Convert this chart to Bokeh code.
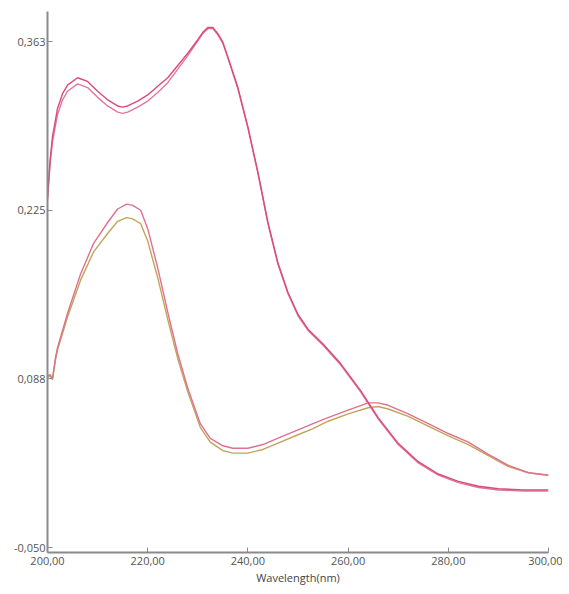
from bokeh.plotting import figure
from bokeh.models import FixedTicker, CustomJSTickFormatter, Range1d
from bokeh.embed import file_html
from bokeh.resources import INLINE

# Upper pair of spectra
wl_top = [200, 200.5, 201, 202, 203, 204, 206, 208, 210, 212, 214, 215, 216, 218, 220, 222,
          224, 226, 228, 230, 231, 232, 233, 234, 235, 236, 238, 240, 242, 244, 246, 248,
          250, 252, 255, 258.5, 262.5, 266, 270, 274, 278, 282, 286, 290, 295, 300]
top_a = [0.235, 0.265, 0.285, 0.308, 0.320, 0.327, 0.333, 0.330, 0.322, 0.315, 0.310, 0.309,
         0.310, 0.314, 0.319, 0.326, 0.333, 0.343, 0.353, 0.364, 0.370, 0.374, 0.374, 0.369,
         0.362, 0.350, 0.325, 0.293, 0.256, 0.215, 0.182, 0.158, 0.140, 0.128, 0.116, 0.100,
         0.078, 0.056, 0.035, 0.020, 0.010, 0.004, 0.000, -0.002, -0.003, -0.003]
top_b = [0.233, 0.262, 0.281, 0.303, 0.315, 0.322, 0.328, 0.325, 0.317, 0.310, 0.305, 0.304,
         0.305, 0.309, 0.314, 0.321, 0.329, 0.340, 0.351, 0.363, 0.369, 0.373, 0.373, 0.368,
         0.361, 0.349, 0.324, 0.292, 0.255, 0.214, 0.181, 0.157, 0.139, 0.127, 0.115, 0.099,
         0.077, 0.055, 0.034, 0.019, 0.009, 0.003, -0.001, -0.003, -0.004, -0.004]

# Lower pair of spectra
wl_low = [200, 200.5, 201, 201.6, 202, 204, 206.6, 209.2, 212, 214, 215.8, 217, 218.6, 220,
          222, 224, 226, 228, 230.5, 232.5, 235, 237, 240, 243, 246.5, 250, 253, 256, 260,
          264, 266, 268, 272, 276, 280, 284, 288, 292, 296, 300]
low_pink = [0.090, 0.091, 0.088, 0.105, 0.113, 0.141, 0.173, 0.198, 0.215, 0.226, 0.230, 0.229,
            0.225, 0.210, 0.178, 0.142, 0.108, 0.080, 0.051, 0.039, 0.033, 0.031, 0.031, 0.034,
            0.040, 0.046, 0.051, 0.056, 0.062, 0.068, 0.068, 0.066, 0.059, 0.051, 0.043, 0.036,
            0.026, 0.017, 0.011, 0.009]
low_olive = [0.089, 0.090, 0.087, 0.103, 0.111, 0.138, 0.168, 0.191, 0.206, 0.216, 0.219, 0.218,
             0.214, 0.200, 0.170, 0.136, 0.104, 0.077, 0.048, 0.036, 0.029, 0.027, 0.027, 0.030,
             0.036, 0.042, 0.047, 0.053, 0.059, 0.064, 0.065, 0.063, 0.057, 0.049, 0.041, 0.034,
             0.025, 0.016, 0.011, 0.009]

x_ticks = [200, 220, 240, 260, 280, 300]
y_ticks = [-0.050, 0.0875, 0.225, 0.3625]

p = figure(frame_width=501, frame_height=541, output_backend="svg", toolbar_location=None,
           x_range=Range1d(200, 300), y_range=Range1d(-0.054, 0.387),
           min_border_left=47, min_border_top=11, min_border_right=14, min_border_bottom=34)
p.background_fill_color = "white"
p.border_fill_color = "white"
p.outline_line_color = None
p.xgrid.visible = False
p.ygrid.visible = False

p.line(wl_low, low_olive, line_color="#bfa45a", line_width=1.4)
p.line(wl_low, low_pink, line_color="#e0708f", line_width=1.4)
p.line(wl_top, top_b, line_color="#e2779a", line_width=1.4)
p.line(wl_top, top_a, line_color="#d94a7e", line_width=1.4)

for ax in (p.xaxis[0], p.yaxis[0]):
    ax.axis_line_color = "#8a8a8a"
    ax.axis_line_width = 2
    ax.major_tick_line_color = "#8a8a8a"
    ax.major_tick_in = 5
    ax.major_tick_out = 0
    ax.minor_tick_line_color = None
    ax.major_label_text_font = "Open Sans"
    ax.major_label_text_font_size = "11px"
    ax.major_label_text_color = "#555555"

p.xaxis.ticker = FixedTicker(ticks=x_ticks)
p.yaxis.ticker = FixedTicker(ticks=y_ticks)
p.xaxis.formatter = CustomJSTickFormatter(code="return tick.toFixed(2).replace('.', ',');")
p.yaxis.formatter = CustomJSTickFormatter(code="return (Math.round(tick*1000)/1000).toFixed(3).replace('.', ',');")
p.yaxis.major_label_standoff = 2
p.xaxis.major_label_standoff = 4
p.xaxis.axis_label = "Wavelength(nm)"
p.xaxis.axis_label_text_font = "Open Sans"
p.xaxis.axis_label_text_font_size = "11px"
p.xaxis.axis_label_text_font_style = "normal"
p.xaxis.axis_label_text_color = "#444444"
p.xaxis.axis_label_standoff = 2

open("out.html", "w").write(file_html(p, INLINE))
